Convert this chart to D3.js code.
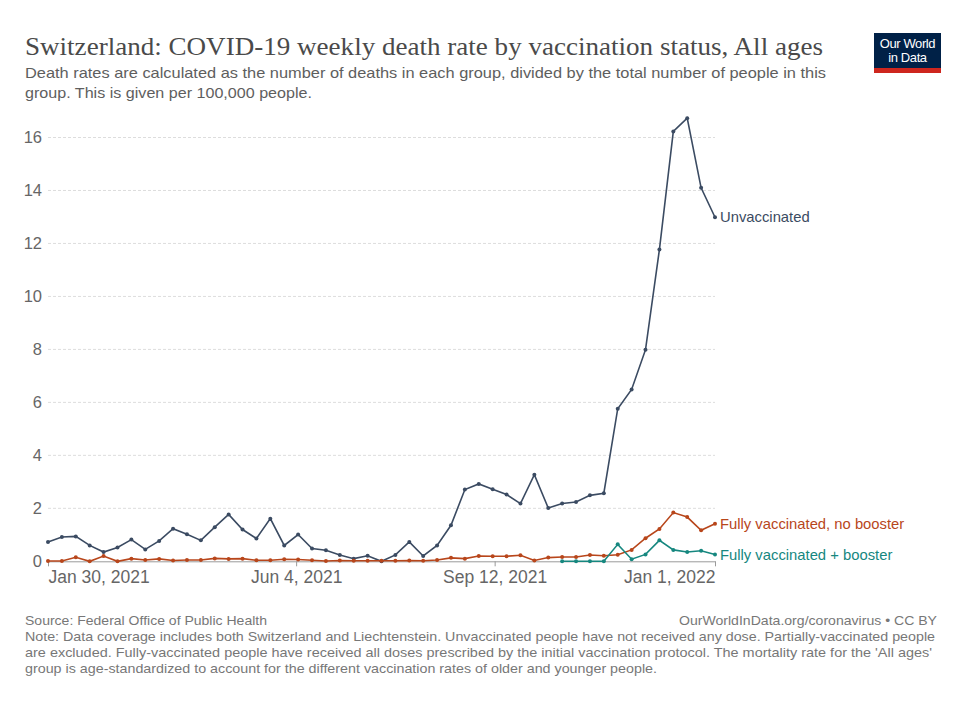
<!DOCTYPE html>
<html>
<head>
<meta charset="utf-8">
<script src="https://cdn.jsdelivr.net/npm/d3@7"></script>
<style>
  body { margin: 0; background: #fff; }
  text { font-family: "Liberation Sans", Arial, sans-serif; }
</style>
</head>
<body>
<div id="chart"></div>
<script>
// Weekly dates (week ending)
var dates = ["2021-01-30","2021-02-06","2021-02-13","2021-02-20","2021-02-27","2021-03-06","2021-03-13",
  "2021-03-20","2021-03-27","2021-04-03","2021-04-10","2021-04-17","2021-04-24","2021-05-01","2021-05-08",
  "2021-05-15","2021-05-22","2021-05-29","2021-06-05","2021-06-12","2021-06-19","2021-06-26","2021-07-03",
  "2021-07-10","2021-07-17","2021-07-24","2021-07-31","2021-08-07","2021-08-14","2021-08-21","2021-08-28",
  "2021-09-04","2021-09-11","2021-09-18","2021-09-25","2021-10-02","2021-10-09","2021-10-16","2021-10-23",
  "2021-10-30","2021-11-06","2021-11-13","2021-11-20","2021-11-27","2021-12-04","2021-12-11","2021-12-18",
  "2021-12-25","2022-01-01"];

var unvaccinated = [0.73,0.92,0.94,0.60,0.35,0.52,0.82,0.45,0.77,1.23,1.02,0.79,1.29,1.77,1.20,0.86,
  1.61,0.60,1.01,0.48,0.42,0.24,0.10,0.21,0.00,0.24,0.73,0.20,0.60,1.36,2.71,2.92,2.72,2.52,2.18,3.27,
  2.01,2.18,2.24,2.49,2.57,5.76,6.49,7.99,11.77,16.23,16.73,14.10,12.99];

var noBooster = [0.01,0.01,0.15,0.00,0.20,0.00,0.10,0.05,0.09,0.03,0.05,0.05,0.11,0.09,0.10,0.04,
  0.04,0.08,0.07,0.04,0.01,0.03,0.02,0.02,0.02,0.02,0.03,0.02,0.05,0.13,0.10,0.20,0.19,0.19,0.23,0.03,
  0.14,0.16,0.16,0.24,0.21,0.25,0.43,0.87,1.22,1.84,1.67,1.17,1.42];

var withBooster = [null,null,null,null,null,null,null,null,null,null,null,null,null,null,null,null,
  null,null,null,null,null,null,null,null,null,null,null,null,null,null,null,null,null,null,null,null,
  null,0.00,0.00,0.00,0.00,0.64,0.08,0.26,0.79,0.43,0.35,0.40,0.26];

var seriesNames = ["Unvaccinated", "Fully vaccinated, no booster", "Fully vaccinated + booster"];
var seriesColors = ["#3b4b62", "#b8461b", "#16877f"];
var yTicks = [0, 2, 4, 6, 8, 10, 12, 14, 16];
var xTicks = ["2021-01-30", "2021-06-04", "2021-09-12", "2022-01-01"];

var W = 980, H = 701;
var margin = {top: 137.5, right: 265, bottom: 139.7, left: 48};

var svg = d3.select("#chart").append("svg")
  .attr("width", W).attr("height", H);

var parse = d3.timeParse("%Y-%m-%d");
var fmt = d3.timeFormat("%b %-d, %Y");

var x = d3.scaleTime()
  .domain([parse(dates[0]), parse(dates[dates.length - 1])])
  .range([margin.left, W - margin.right]);
var y = d3.scaleLinear()
  .domain([0, 16])
  .range([H - margin.bottom, margin.top]);

// Title + subtitle
svg.append("text")
  .attr("x", 25).attr("y", 54.5)
  .attr("textLength", 798).attr("lengthAdjust", "spacingAndGlyphs")
  .style("font-family", "'Liberation Serif', 'DejaVu Serif', serif")
  .style("font-size", "25px").style("fill", "#4a4a4a")
  .text("Switzerland: COVID-19 weekly death rate by vaccination status, All ages");

var subLines = [
  ["Death rates are calculated as the number of deaths in each group, divided by the total number of people in this", 801],
  ["group. This is given per 100,000 people.", 287]
];
svg.selectAll(".sub").data(subLines).enter().append("text")
  .attr("class", "sub")
  .attr("x", 25).attr("y", (d, i) => 78 + i * 19.5)
  .attr("textLength", d => d[1]).attr("lengthAdjust", "spacingAndGlyphs")
  .style("font-size", "15px").style("fill", "#5e5e5e")
  .text(d => d[0]);

// Logo
var logo = svg.append("g").attr("transform", "translate(874,33)");
logo.append("rect").attr("width", 67).attr("height", 40).attr("fill", "#002147");
logo.append("rect").attr("y", 35).attr("width", 67).attr("height", 5).attr("fill", "#ce261e");
logo.selectAll("text").data(["Our World", "in Data"]).enter().append("text")
  .attr("x", 33.5).attr("y", (d, i) => 14.5 + i * 14)
  .attr("text-anchor", "middle")
  .style("font-size", "13px").style("fill", "#fff").style("letter-spacing", "-0.4px")
  .text(d => d);

// Grid
svg.append("g").selectAll("line")
  .data(yTicks.filter(d => d > 0)).enter().append("line")
  .attr("x1", margin.left).attr("x2", W - margin.right)
  .attr("y1", d => y(d)).attr("y2", d => y(d))
  .attr("stroke", "#dddddd").attr("stroke-dasharray", "3,2");

// Y labels
svg.append("g").selectAll("text")
  .data(yTicks).enter().append("text")
  .attr("x", 42).attr("y", d => y(d)).attr("dy", "0.36em")
  .attr("text-anchor", "end")
  .style("font-size", "16.5px").style("fill", "#666")
  .text(d => d);

// X axis
var xAxis = svg.append("g")
  .attr("transform", `translate(0,${y(0)})`)
  .call(d3.axisBottom(x)
    .tickValues(xTicks.map(parse))
    .tickSize(5)
    .tickSizeOuter(0)
    .tickFormat(fmt));
xAxis.select(".domain").attr("stroke", "#9a9a9a");
xAxis.selectAll(".tick line").attr("stroke", "#9a9a9a");
xAxis.selectAll(".tick text")
  .attr("y", 9)
  .style("font-family", "'Liberation Sans', Arial, sans-serif")
  .style("font-size", "17.5px").style("fill", "#666")
  .attr("text-anchor", (d, i) => i === 0 ? "start" : (i === xTicks.length - 1 ? "end" : "middle"));

// Lines
var allSeries = [unvaccinated, noBooster, withBooster];
var line = d3.line()
  .defined(d => d.v != null)
  .x(d => x(d.date))
  .y(d => y(d.v));

allSeries.forEach(function(vals, s) {
  var pts = vals.map((v, i) => ({date: parse(dates[i]), v: v}));
  var g = svg.append("g");
  g.append("path")
    .datum(pts)
    .attr("fill", "none")
    .attr("stroke", seriesColors[s])
    .attr("stroke-width", 1.6)
    .attr("d", line);
  g.selectAll("circle")
    .data(pts.filter(d => d.v != null)).enter().append("circle")
    .attr("cx", d => x(d.date)).attr("cy", d => y(d.v))
    .attr("r", 2).attr("fill", seriesColors[s]);
  var last = pts[pts.length - 1];
  g.append("text")
    .attr("x", x(last.date) + 5).attr("y", y(last.v)).attr("dy", "0.35em")
    .style("font-size", "14.8px").style("fill", seriesColors[s])
    .text(seriesNames[s]);
});

// Footer
svg.append("text")
  .attr("x", 25).attr("y", 624.5)
  .attr("textLength", 242).attr("lengthAdjust", "spacingAndGlyphs")
  .style("font-size", "13.5px").style("fill", "#777")
  .text("Source: Federal Office of Public Health");
svg.append("text")
  .attr("x", 937).attr("y", 624.5).attr("text-anchor", "end")
  .attr("textLength", 258).attr("lengthAdjust", "spacingAndGlyphs")
  .style("font-size", "13.5px").style("fill", "#777")
  .text("OurWorldInData.org/coronavirus \u2022 CC BY");

var noteLines = [
  ["Note: Data coverage includes both Switzerland and Liechtenstein. Unvaccinated people have not received any dose. Partially-vaccinated people", 910],
  ["are excluded. Fully-vaccinated people have received all doses prescribed by the initial vaccination protocol. The mortality rate for the 'All ages'", 907],
  ["group is age-standardized to account for the different vaccination rates of older and younger people.", 632]
];
svg.selectAll(".note").data(noteLines).enter().append("text")
  .attr("class", "note")
  .attr("x", 25).attr("y", (d, i) => 640.5 + i * 16)
  .attr("textLength", d => d[1]).attr("lengthAdjust", "spacingAndGlyphs")
  .style("font-size", "13.5px").style("fill", "#777")
  .text(d => d[0]);
</script>
</body>
</html>
